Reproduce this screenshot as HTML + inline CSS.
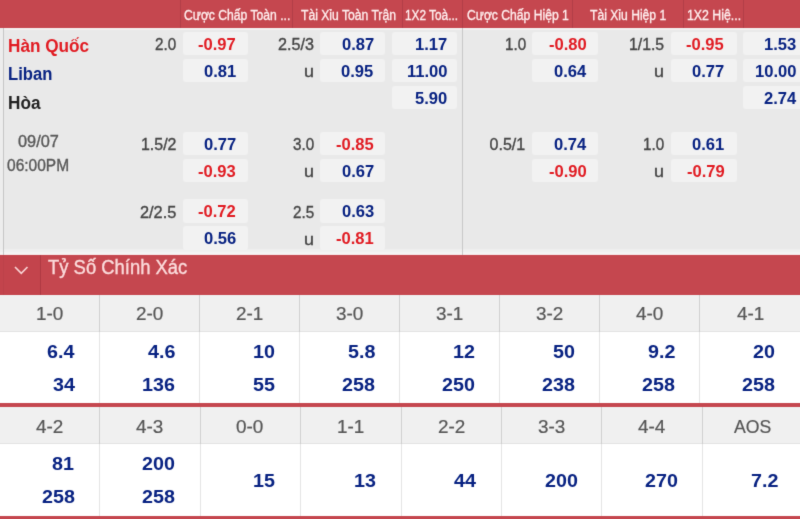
<!DOCTYPE html>
<html><head><meta charset="utf-8"><title>Odds</title>
<style>
html,body{margin:0;padding:0;}
body{width:800px;height:519px;overflow:hidden;position:relative;background:#fff;font-family:"Liberation Sans",sans-serif;}
#r{position:absolute;left:0;top:0;width:800px;height:519px;overflow:hidden;}
#f{position:absolute;left:-12px;top:-12px;width:824px;height:543px;filter:url(#bl);}
#c{position:absolute;left:12px;top:12px;width:800px;height:519px;}
#c div,#c svg{position:absolute;}
.t{position:absolute;white-space:nowrap;line-height:1;transform-origin:0 0;}
</style></head><body>
<svg width="0" height="0" style="position:absolute"><filter id="bl" x="0" y="0" width="100%" height="100%" color-interpolation-filters="sRGB"><feConvolveMatrix order="3" kernelMatrix="0.0113 0.0838 0.0113 0.0838 0.6196 0.0838 0.0113 0.0838 0.0113" divisor="1" edgeMode="duplicate" preserveAlpha="true"/></filter></svg>
<div id="r"><div id="f"><div id="c">
<div style="left:-10px;top:-10px;width:820px;height:38px;background:#c5474f;"></div>
<div style="left:-10px;top:28px;width:820px;height:221px;background:#e9e9e9;"></div>
<div style="left:-10px;top:28px;width:820px;height:1.5px;background:#f3f0f0;"></div>
<div style="left:-10px;top:28px;width:13px;height:226px;background:#ededed;"></div>
<div style="left:-10px;top:249px;width:820px;height:3px;background:#efefef;"></div>
<div style="left:-10px;top:252px;width:820px;height:2px;background:#f4f4f4;"></div>
<div style="left:-10px;top:254px;width:820px;height:1px;background:#f6e9ea;"></div>
<div style="left:3px;top:28px;width:1px;height:227px;background:#c6c6c6;"></div>
<div style="left:462px;top:28px;width:1px;height:227px;background:#c8c8c8;"></div>
<div style="left:-10px;top:255px;width:820px;height:39.5px;background:#c5474f;"></div>
<div style="left:-10px;top:255px;width:50px;height:39.5px;background:#c3444c;"></div>
<div style="left:40px;top:255px;width:1px;height:39.5px;background:#ae3a43;"></div>
<div style="left:3px;top:255px;width:1px;height:39.5px;background:#bd414a;"></div>
<div style="left:180px;top:-10px;width:1px;height:38px;background:#b23e47;"></div>
<div style="left:292px;top:-10px;width:1px;height:38px;background:#b23e47;"></div>
<div style="left:402px;top:-10px;width:1px;height:38px;background:#b23e47;"></div>
<div style="left:462px;top:-10px;width:1px;height:38px;background:#b23e47;"></div>
<div style="left:572px;top:-10px;width:1px;height:38px;background:#b23e47;"></div>
<div style="left:683px;top:-10px;width:1px;height:38px;background:#b23e47;"></div>
<div style="left:743px;top:-10px;width:1px;height:38px;background:#b23e47;"></div>
<span class="t" style="left:183.85px;top:7.65px;font-size:14px;font-weight:400;color:#ffeeee;transform:scaleX(0.867);-webkit-text-stroke:0.35px #ffeeee;">Cược Chấp Toàn ...</span>
<span class="t" style="left:300.98px;top:7.65px;font-size:14px;font-weight:400;color:#ffeeee;transform:scaleX(0.867);-webkit-text-stroke:0.35px #ffeeee;">Tài Xỉu Toàn Trận</span>
<span class="t" style="left:405.35px;top:7.65px;font-size:14px;font-weight:400;color:#ffeeee;transform:scaleX(0.845);-webkit-text-stroke:0.35px #ffeeee;">1X2 Toà...</span>
<span class="t" style="left:466.55px;top:7.65px;font-size:14px;font-weight:400;color:#ffeeee;transform:scaleX(0.867);-webkit-text-stroke:0.35px #ffeeee;">Cược Chấp Hiệp 1</span>
<span class="t" style="left:589.98px;top:7.65px;font-size:14px;font-weight:400;color:#ffeeee;transform:scaleX(0.867);-webkit-text-stroke:0.35px #ffeeee;">Tài Xỉu Hiệp 1</span>
<span class="t" style="left:686.82px;top:7.65px;font-size:14px;font-weight:400;color:#ffeeee;transform:scaleX(0.88);-webkit-text-stroke:0.35px #ffeeee;">1X2 Hiệ...</span>
<span class="t" style="left:7.91px;top:36.96px;font-size:18px;font-weight:700;color:#e11b22;transform:scaleX(0.955);">Hàn Quốc</span>
<span class="t" style="left:7.94px;top:65.16px;font-size:18px;font-weight:700;color:#082282;transform:scaleX(0.925);">Liban</span>
<span class="t" style="left:7.91px;top:94.36px;font-size:18px;font-weight:700;color:#222;transform:scaleX(0.955);">Hòa</span>
<span class="t" style="left:17.96px;top:133.56px;font-size:16px;font-weight:400;color:#575757;transform:scaleX(1.02);-webkit-text-stroke:0.35px #575757;">09/07</span>
<span class="t" style="left:7.16px;top:157.66px;font-size:16px;font-weight:400;color:#575757;transform:scaleX(0.97);-webkit-text-stroke:0.35px #575757;">06:00PM</span>
<div style="left:182.8px;top:31.8px;width:64.9px;height:23.6px;background:#f2f2f2;border-radius:3px;"></div>
<span class="t" style="left:198.47px;top:37.06px;font-size:16px;font-weight:700;color:#e11b22;transform:scaleX(1.035);">-0.97</span>
<span class="t" style="left:154.76px;top:37.36px;font-size:16px;font-weight:400;color:#444444;transform:scaleX(0.95);-webkit-text-stroke:0.35px #444444;">2.0</span>
<div style="left:182.8px;top:58.8px;width:64.9px;height:23.6px;background:#f2f2f2;border-radius:3px;"></div>
<span class="t" style="left:203.77px;top:64.06px;font-size:16px;font-weight:700;color:#082282;transform:scaleX(1.035);">0.81</span>
<div style="left:319.6px;top:31.8px;width:65.2px;height:23.6px;background:#f2f2f2;border-radius:3px;"></div>
<span class="t" style="left:341.73px;top:37.06px;font-size:16px;font-weight:700;color:#082282;transform:scaleX(1.035);">0.87</span>
<span class="t" style="left:277.85px;top:37.36px;font-size:16px;font-weight:400;color:#444444;transform:scaleX(1.01);-webkit-text-stroke:0.35px #444444;">2.5/3</span>
<div style="left:319.6px;top:58.8px;width:65.2px;height:23.6px;background:#f2f2f2;border-radius:3px;"></div>
<span class="t" style="left:341.47px;top:64.06px;font-size:16px;font-weight:700;color:#082282;transform:scaleX(1.035);">0.95</span>
<span class="t" style="left:304.38px;top:64.36px;font-size:16px;font-weight:400;color:#444444;transform:scaleX(1.12);-webkit-text-stroke:0.35px #444444;">u</span>
<div style="left:392.1px;top:31.8px;width:65.4px;height:23.6px;background:#f2f2f2;border-radius:3px;"></div>
<span class="t" style="left:414.83px;top:37.06px;font-size:16px;font-weight:700;color:#082282;transform:scaleX(1.035);">1.17</span>
<div style="left:392.1px;top:58.8px;width:65.4px;height:23.6px;background:#f2f2f2;border-radius:3px;"></div>
<span class="t" style="left:406.55px;top:64.06px;font-size:16px;font-weight:700;color:#082282;transform:scaleX(1.035);">11.00</span>
<div style="left:392.1px;top:85.8px;width:65.4px;height:23.6px;background:#f2f2f2;border-radius:3px;"></div>
<span class="t" style="left:414.83px;top:91.06px;font-size:16px;font-weight:700;color:#082282;transform:scaleX(1.035);">5.90</span>
<div style="left:532px;top:31.8px;width:66.2px;height:23.6px;background:#f2f2f2;border-radius:3px;"></div>
<span class="t" style="left:548.77px;top:37.06px;font-size:16px;font-weight:700;color:#e11b22;transform:scaleX(1.035);">-0.80</span>
<span class="t" style="left:504.96px;top:37.36px;font-size:16px;font-weight:400;color:#444444;transform:scaleX(0.95);-webkit-text-stroke:0.35px #444444;">1.0</span>
<div style="left:532px;top:58.8px;width:66.2px;height:23.6px;background:#f2f2f2;border-radius:3px;"></div>
<span class="t" style="left:553.69px;top:64.06px;font-size:16px;font-weight:700;color:#082282;transform:scaleX(1.035);">0.64</span>
<div style="left:671px;top:31.8px;width:65.7px;height:23.6px;background:#f2f2f2;border-radius:3px;"></div>
<span class="t" style="left:686.41px;top:37.06px;font-size:16px;font-weight:700;color:#e11b22;transform:scaleX(1.035);">-0.95</span>
<span class="t" style="left:628.82px;top:37.36px;font-size:16px;font-weight:400;color:#444444;transform:scaleX(0.985);-webkit-text-stroke:0.35px #444444;">1/1.5</span>
<div style="left:671px;top:58.8px;width:65.7px;height:23.6px;background:#f2f2f2;border-radius:3px;"></div>
<span class="t" style="left:692.23px;top:64.06px;font-size:16px;font-weight:700;color:#082282;transform:scaleX(1.035);">0.77</span>
<span class="t" style="left:654.48px;top:64.36px;font-size:16px;font-weight:400;color:#444444;transform:scaleX(1.12);-webkit-text-stroke:0.35px #444444;">u</span>
<div style="left:743px;top:31.8px;width:70px;height:23.6px;background:#f2f2f2;border-radius:3px;"></div>
<span class="t" style="left:764.10px;top:37.06px;font-size:16px;font-weight:700;color:#082282;transform:scaleX(1.035);">1.53</span>
<div style="left:743px;top:58.8px;width:70px;height:23.6px;background:#f2f2f2;border-radius:3px;"></div>
<span class="t" style="left:755.05px;top:64.06px;font-size:16px;font-weight:700;color:#082282;transform:scaleX(1.035);">10.00</span>
<div style="left:743px;top:85.8px;width:70px;height:23.6px;background:#f2f2f2;border-radius:3px;"></div>
<span class="t" style="left:763.59px;top:91.06px;font-size:16px;font-weight:700;color:#082282;transform:scaleX(1.035);">2.74</span>
<div style="left:182.8px;top:131.8px;width:64.9px;height:23.6px;background:#f2f2f2;border-radius:3px;"></div>
<span class="t" style="left:204.03px;top:137.06px;font-size:16px;font-weight:700;color:#082282;transform:scaleX(1.035);">0.77</span>
<span class="t" style="left:140.60px;top:137.36px;font-size:16px;font-weight:400;color:#444444;transform:scaleX(0.995);-webkit-text-stroke:0.35px #444444;">1.5/2</span>
<div style="left:182.8px;top:158.6px;width:64.9px;height:23.6px;background:#f2f2f2;border-radius:3px;"></div>
<span class="t" style="left:198.34px;top:163.86px;font-size:16px;font-weight:700;color:#e11b22;transform:scaleX(1.035);">-0.93</span>
<div style="left:319.6px;top:131.8px;width:65.2px;height:23.6px;background:#f2f2f2;border-radius:3px;"></div>
<span class="t" style="left:335.91px;top:137.06px;font-size:16px;font-weight:700;color:#e11b22;transform:scaleX(1.035);">-0.85</span>
<span class="t" style="left:292.66px;top:137.36px;font-size:16px;font-weight:400;color:#444444;transform:scaleX(0.95);-webkit-text-stroke:0.35px #444444;">3.0</span>
<div style="left:319.6px;top:158.6px;width:65.2px;height:23.6px;background:#f2f2f2;border-radius:3px;"></div>
<span class="t" style="left:341.73px;top:163.86px;font-size:16px;font-weight:700;color:#082282;transform:scaleX(1.035);">0.67</span>
<span class="t" style="left:304.38px;top:164.16px;font-size:16px;font-weight:400;color:#444444;transform:scaleX(1.12);-webkit-text-stroke:0.35px #444444;">u</span>
<div style="left:532px;top:131.8px;width:66.2px;height:23.6px;background:#f2f2f2;border-radius:3px;"></div>
<span class="t" style="left:553.69px;top:137.06px;font-size:16px;font-weight:700;color:#082282;transform:scaleX(1.035);">0.74</span>
<span class="t" style="left:489.62px;top:137.36px;font-size:16px;font-weight:400;color:#444444;-webkit-text-stroke:0.35px #444444;">0.5/1</span>
<div style="left:532px;top:158.6px;width:66.2px;height:23.6px;background:#f2f2f2;border-radius:3px;"></div>
<span class="t" style="left:548.77px;top:163.86px;font-size:16px;font-weight:700;color:#e11b22;transform:scaleX(1.035);">-0.90</span>
<div style="left:671px;top:131.8px;width:65.7px;height:23.6px;background:#f2f2f2;border-radius:3px;"></div>
<span class="t" style="left:691.97px;top:137.06px;font-size:16px;font-weight:700;color:#082282;transform:scaleX(1.035);">0.61</span>
<span class="t" style="left:642.76px;top:137.36px;font-size:16px;font-weight:400;color:#444444;transform:scaleX(0.95);-webkit-text-stroke:0.35px #444444;">1.0</span>
<div style="left:671px;top:158.6px;width:65.7px;height:23.6px;background:#f2f2f2;border-radius:3px;"></div>
<span class="t" style="left:686.54px;top:163.86px;font-size:16px;font-weight:700;color:#e11b22;transform:scaleX(1.035);">-0.79</span>
<span class="t" style="left:654.48px;top:164.16px;font-size:16px;font-weight:400;color:#444444;transform:scaleX(1.12);-webkit-text-stroke:0.35px #444444;">u</span>
<div style="left:182.8px;top:199.1px;width:64.9px;height:23.6px;background:#f2f2f2;border-radius:3px;"></div>
<span class="t" style="left:198.47px;top:204.36px;font-size:16px;font-weight:700;color:#e11b22;transform:scaleX(1.035);">-0.72</span>
<span class="t" style="left:139.60px;top:204.66px;font-size:16px;font-weight:400;color:#444444;transform:scaleX(1.02);-webkit-text-stroke:0.35px #444444;">2/2.5</span>
<div style="left:182.8px;top:226px;width:64.9px;height:23.6px;background:#f2f2f2;border-radius:3px;"></div>
<span class="t" style="left:203.90px;top:231.26px;font-size:16px;font-weight:700;color:#082282;transform:scaleX(1.035);">0.56</span>
<div style="left:319.6px;top:199.1px;width:65.2px;height:23.6px;background:#f2f2f2;border-radius:3px;"></div>
<span class="t" style="left:341.60px;top:204.36px;font-size:16px;font-weight:700;color:#082282;transform:scaleX(1.035);">0.63</span>
<span class="t" style="left:292.66px;top:204.66px;font-size:16px;font-weight:400;color:#444444;transform:scaleX(0.95);-webkit-text-stroke:0.35px #444444;">2.5</span>
<div style="left:319.6px;top:226px;width:65.2px;height:23.6px;background:#f2f2f2;border-radius:3px;"></div>
<span class="t" style="left:335.91px;top:231.26px;font-size:16px;font-weight:700;color:#e11b22;transform:scaleX(1.035);">-0.81</span>
<span class="t" style="left:304.38px;top:231.56px;font-size:16px;font-weight:400;color:#444444;transform:scaleX(1.12);-webkit-text-stroke:0.35px #444444;">u</span>
<span class="t" style="left:47.85px;top:257.79px;font-size:19.5px;font-weight:400;color:#fbdcdc;transform:scaleX(0.945);-webkit-text-stroke:0.35px #fbdcdc;">Tỷ Số Chính Xác</span>
<svg style="left:13px;top:265px" width="17" height="11" viewBox="0 0 17 11"><path d="M2 2 L8.25 8.4 L14.5 2" fill="none" stroke="#f9d6d6" stroke-width="1.6"/></svg>
<div style="left:-10px;top:294.5px;width:820px;height:37px;background:#f0f0f0;"></div>
<div style="left:-10px;top:330.5px;width:820px;height:1px;background:#e2e2e2;"></div>
<div style="left:-10px;top:331.5px;width:820px;height:71px;background:#ffffff;"></div>
<div style="left:99px;top:294.5px;width:1px;height:37px;background:#d0d0d0;"></div>
<div style="left:99px;top:331.5px;width:1px;height:71px;background:#e4e4e4;"></div>
<div style="left:199px;top:294.5px;width:1px;height:37px;background:#d0d0d0;"></div>
<div style="left:199px;top:331.5px;width:1px;height:71px;background:#e4e4e4;"></div>
<div style="left:299px;top:294.5px;width:1px;height:37px;background:#d0d0d0;"></div>
<div style="left:299px;top:331.5px;width:1px;height:71px;background:#e4e4e4;"></div>
<div style="left:399px;top:294.5px;width:1px;height:37px;background:#d0d0d0;"></div>
<div style="left:399px;top:331.5px;width:1px;height:71px;background:#e4e4e4;"></div>
<div style="left:499px;top:294.5px;width:1px;height:37px;background:#d0d0d0;"></div>
<div style="left:499px;top:331.5px;width:1px;height:71px;background:#e4e4e4;"></div>
<div style="left:599px;top:294.5px;width:1px;height:37px;background:#d0d0d0;"></div>
<div style="left:599px;top:331.5px;width:1px;height:71px;background:#e4e4e4;"></div>
<div style="left:699px;top:294.5px;width:1px;height:37px;background:#d0d0d0;"></div>
<div style="left:699px;top:331.5px;width:1px;height:71px;background:#e4e4e4;"></div>
<span class="t" style="left:35.96px;top:305.26px;font-size:18px;font-weight:400;color:#555555;transform:scaleX(1.05);-webkit-text-stroke:0.2px #555555;">1-0</span>
<span class="t" style="left:136.22px;top:305.26px;font-size:18px;font-weight:400;color:#555555;transform:scaleX(1.05);-webkit-text-stroke:0.2px #555555;">2-0</span>
<span class="t" style="left:236.35px;top:305.26px;font-size:18px;font-weight:400;color:#555555;transform:scaleX(1.05);-webkit-text-stroke:0.2px #555555;">2-1</span>
<span class="t" style="left:336.35px;top:305.26px;font-size:18px;font-weight:400;color:#555555;transform:scaleX(1.05);-webkit-text-stroke:0.2px #555555;">3-0</span>
<span class="t" style="left:436.48px;top:305.26px;font-size:18px;font-weight:400;color:#555555;transform:scaleX(1.05);-webkit-text-stroke:0.2px #555555;">3-1</span>
<span class="t" style="left:536.48px;top:305.26px;font-size:18px;font-weight:400;color:#555555;transform:scaleX(1.05);-webkit-text-stroke:0.2px #555555;">3-2</span>
<span class="t" style="left:636.48px;top:305.26px;font-size:18px;font-weight:400;color:#555555;transform:scaleX(1.05);-webkit-text-stroke:0.2px #555555;">4-0</span>
<span class="t" style="left:736.61px;top:305.26px;font-size:18px;font-weight:400;color:#555555;transform:scaleX(1.05);-webkit-text-stroke:0.2px #555555;">4-1</span>
<span class="t" style="left:47.26px;top:342.86px;font-size:18px;font-weight:700;color:#082282;transform:scaleX(1.095);">6.4</span>
<span class="t" style="left:52.74px;top:375.76px;font-size:18px;font-weight:700;color:#082282;transform:scaleX(1.095);">34</span>
<span class="t" style="left:147.81px;top:342.86px;font-size:18px;font-weight:700;color:#082282;transform:scaleX(1.095);">4.6</span>
<span class="t" style="left:142.33px;top:375.76px;font-size:18px;font-weight:700;color:#082282;transform:scaleX(1.095);">136</span>
<span class="t" style="left:253.42px;top:342.86px;font-size:18px;font-weight:700;color:#082282;transform:scaleX(1.095);">10</span>
<span class="t" style="left:253.15px;top:375.76px;font-size:18px;font-weight:700;color:#082282;transform:scaleX(1.095);">55</span>
<span class="t" style="left:347.67px;top:342.86px;font-size:18px;font-weight:700;color:#082282;transform:scaleX(1.095);">5.8</span>
<span class="t" style="left:342.20px;top:375.76px;font-size:18px;font-weight:700;color:#082282;transform:scaleX(1.095);">258</span>
<span class="t" style="left:453.42px;top:342.86px;font-size:18px;font-weight:700;color:#082282;transform:scaleX(1.095);">12</span>
<span class="t" style="left:442.47px;top:375.76px;font-size:18px;font-weight:700;color:#082282;transform:scaleX(1.095);">250</span>
<span class="t" style="left:553.42px;top:342.86px;font-size:18px;font-weight:700;color:#082282;transform:scaleX(1.095);">50</span>
<span class="t" style="left:542.20px;top:375.76px;font-size:18px;font-weight:700;color:#082282;transform:scaleX(1.095);">238</span>
<span class="t" style="left:647.95px;top:342.86px;font-size:18px;font-weight:700;color:#082282;transform:scaleX(1.095);">9.2</span>
<span class="t" style="left:642.20px;top:375.76px;font-size:18px;font-weight:700;color:#082282;transform:scaleX(1.095);">258</span>
<span class="t" style="left:753.42px;top:342.86px;font-size:18px;font-weight:700;color:#082282;transform:scaleX(1.095);">20</span>
<span class="t" style="left:742.20px;top:375.76px;font-size:18px;font-weight:700;color:#082282;transform:scaleX(1.095);">258</span>
<div style="left:-10px;top:402.5px;width:820px;height:4.5px;background:#c5474f;"></div>
<div style="left:-10px;top:407px;width:820px;height:37px;background:#f0f0f0;"></div>
<div style="left:-10px;top:443px;width:820px;height:1px;background:#e2e2e2;"></div>
<div style="left:-10px;top:444px;width:820px;height:72px;background:#ffffff;"></div>
<div style="left:99px;top:407px;width:1px;height:37px;background:#d0d0d0;"></div>
<div style="left:99px;top:444px;width:1px;height:72px;background:#e4e4e4;"></div>
<div style="left:200px;top:407px;width:1px;height:37px;background:#d0d0d0;"></div>
<div style="left:200px;top:444px;width:1px;height:72px;background:#e4e4e4;"></div>
<div style="left:300.3px;top:407px;width:1px;height:37px;background:#d0d0d0;"></div>
<div style="left:300.3px;top:444px;width:1px;height:72px;background:#e4e4e4;"></div>
<div style="left:400.5px;top:407px;width:1px;height:37px;background:#d0d0d0;"></div>
<div style="left:400.5px;top:444px;width:1px;height:72px;background:#e4e4e4;"></div>
<div style="left:501px;top:407px;width:1px;height:37px;background:#d0d0d0;"></div>
<div style="left:501px;top:444px;width:1px;height:72px;background:#e4e4e4;"></div>
<div style="left:601px;top:407px;width:1px;height:37px;background:#d0d0d0;"></div>
<div style="left:601px;top:444px;width:1px;height:72px;background:#e4e4e4;"></div>
<div style="left:701.5px;top:407px;width:1px;height:37px;background:#d0d0d0;"></div>
<div style="left:701.5px;top:444px;width:1px;height:72px;background:#e4e4e4;"></div>
<span class="t" style="left:35.61px;top:417.76px;font-size:18px;font-weight:400;color:#555555;transform:scaleX(1.05);-webkit-text-stroke:0.2px #555555;">4-2</span>
<span class="t" style="left:135.55px;top:417.76px;font-size:18px;font-weight:400;color:#555555;transform:scaleX(1.05);-webkit-text-stroke:0.2px #555555;">4-3</span>
<span class="t" style="left:236.28px;top:417.76px;font-size:18px;font-weight:400;color:#555555;transform:scaleX(1.05);-webkit-text-stroke:0.2px #555555;">0-0</span>
<span class="t" style="left:337.09px;top:417.76px;font-size:18px;font-weight:400;color:#555555;transform:scaleX(1.05);-webkit-text-stroke:0.2px #555555;">1-1</span>
<span class="t" style="left:438.35px;top:417.76px;font-size:18px;font-weight:400;color:#555555;transform:scaleX(1.05);-webkit-text-stroke:0.2px #555555;">2-2</span>
<span class="t" style="left:538.42px;top:417.76px;font-size:18px;font-weight:400;color:#555555;transform:scaleX(1.05);-webkit-text-stroke:0.2px #555555;">3-3</span>
<span class="t" style="left:638.42px;top:417.76px;font-size:18px;font-weight:400;color:#555555;transform:scaleX(1.05);-webkit-text-stroke:0.2px #555555;">4-4</span>
<span class="t" style="left:734.25px;top:417.76px;font-size:18px;font-weight:400;color:#555555;transform:scaleX(0.98);-webkit-text-stroke:0.2px #555555;">AOS</span>
<span class="t" style="left:51.55px;top:455.36px;font-size:18px;font-weight:700;color:#082282;transform:scaleX(1.095);">81</span>
<span class="t" style="left:42.20px;top:488.26px;font-size:18px;font-weight:700;color:#082282;transform:scaleX(1.095);">258</span>
<span class="t" style="left:142.47px;top:455.36px;font-size:18px;font-weight:700;color:#082282;transform:scaleX(1.095);">200</span>
<span class="t" style="left:142.20px;top:488.26px;font-size:18px;font-weight:700;color:#082282;transform:scaleX(1.095);">258</span>
<span class="t" style="left:253.15px;top:471.76px;font-size:18px;font-weight:700;color:#082282;transform:scaleX(1.095);">15</span>
<span class="t" style="left:353.78px;top:471.76px;font-size:18px;font-weight:700;color:#082282;transform:scaleX(1.095);">13</span>
<span class="t" style="left:454.24px;top:471.76px;font-size:18px;font-weight:700;color:#082282;transform:scaleX(1.095);">44</span>
<span class="t" style="left:544.97px;top:471.76px;font-size:18px;font-weight:700;color:#082282;transform:scaleX(1.095);">200</span>
<span class="t" style="left:644.97px;top:471.76px;font-size:18px;font-weight:700;color:#082282;transform:scaleX(1.095);">270</span>
<span class="t" style="left:750.95px;top:471.76px;font-size:18px;font-weight:700;color:#082282;transform:scaleX(1.095);">7.2</span>
<div style="left:-10px;top:515.7px;width:820px;height:14px;background:#c5474f;"></div>
</div></div></div></body></html>
